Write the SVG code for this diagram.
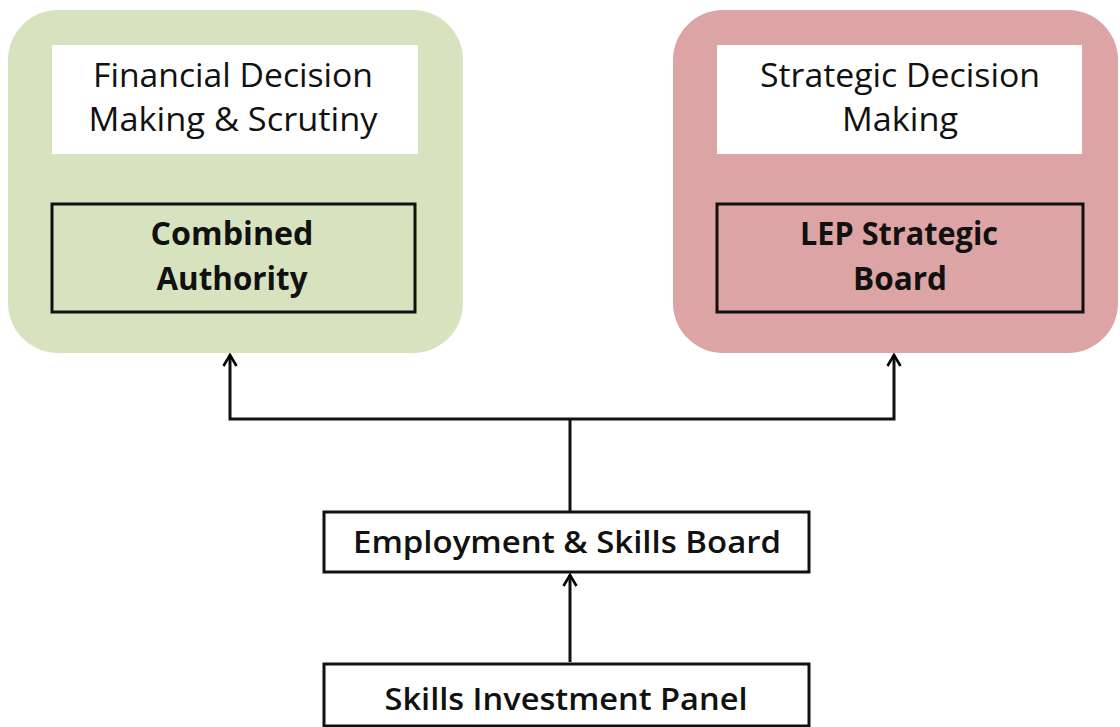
<svg xmlns="http://www.w3.org/2000/svg" width="1120" height="727" viewBox="0 0 1120 727">
<defs>
<marker id="arr" viewBox="0 0 16 16" refX="14" refY="8" markerWidth="16" markerHeight="16" markerUnits="userSpaceOnUse" orient="auto">
<path d="M3,1.5 L14,8 L3,14.5" fill="none" stroke="#000" stroke-width="2.6"/>
</marker>
</defs>
<style>
text{font-family:"Open Sans","Liberation Sans",sans-serif;fill:#111;text-anchor:middle}
.h{font-size:32px;font-weight:400}
.b{font-size:32px;font-weight:700}
.s{font-size:30px;font-weight:600}
.box{fill:none;stroke:#111;stroke-width:3}
.wbox{fill:#fff;stroke:#111;stroke-width:3}
.conn{fill:none;stroke:#111;stroke-width:3}
</style>
<rect width="1120" height="727" fill="#fff"/>
<g id="financial">
<rect x="8" y="10" width="455" height="343" rx="50" fill="#d7e3bf"/>
<rect x="52" y="45" width="366" height="109" fill="#fff"/>
<text class="h" x="233" y="87" textLength="280" lengthAdjust="spacingAndGlyphs">Financial Decision</text>
<text class="h" x="233" y="131" textLength="289" lengthAdjust="spacingAndGlyphs">Making &amp; Scrutiny</text>
</g>
<g id="combined-authority">
<rect class="box" x="52" y="204" width="363" height="108"/>
<text class="b" x="232" y="245" textLength="163" lengthAdjust="spacingAndGlyphs">Combined</text>
<text class="b" x="232" y="290" textLength="151" lengthAdjust="spacingAndGlyphs">Authority</text>
</g>
<g id="strategic">
<rect x="673" y="10" width="445" height="343" rx="50" fill="#dca4a4"/>
<rect x="717" y="45" width="365" height="109" fill="#fff"/>
<text class="h" x="900" y="87" textLength="280" lengthAdjust="spacingAndGlyphs">Strategic Decision</text>
<text class="h" x="900" y="131" textLength="116" lengthAdjust="spacingAndGlyphs">Making</text>
</g>
<g id="lep-board">
<rect class="box" x="717" y="204" width="366" height="108"/>
<text class="b" x="899" y="245" textLength="198" lengthAdjust="spacingAndGlyphs">LEP Strategic</text>
<text class="b" x="900" y="290" textLength="94" lengthAdjust="spacingAndGlyphs">Board</text>
</g>
<g id="employment-skills">
<rect class="wbox" x="324" y="512" width="485" height="60"/>
<text class="s" x="567" y="553" textLength="428" lengthAdjust="spacingAndGlyphs">Employment &amp; Skills Board</text>
</g>
<g id="skills-panel">
<rect class="wbox" x="324" y="664" width="485" height="62"/>
<text class="s" x="566" y="710" textLength="363" lengthAdjust="spacingAndGlyphs">Skills Investment Panel</text>
</g>
<g id="connectors">
<path class="conn" d="M570,512 V419" />
<path class="conn" d="M570,419 H230 V355" marker-end="url(#arr)"/>
<path class="conn" d="M570,419 H894 V355" marker-end="url(#arr)"/>
<path class="conn" d="M570,662 V575" marker-end="url(#arr)"/>
</g>
</svg>
